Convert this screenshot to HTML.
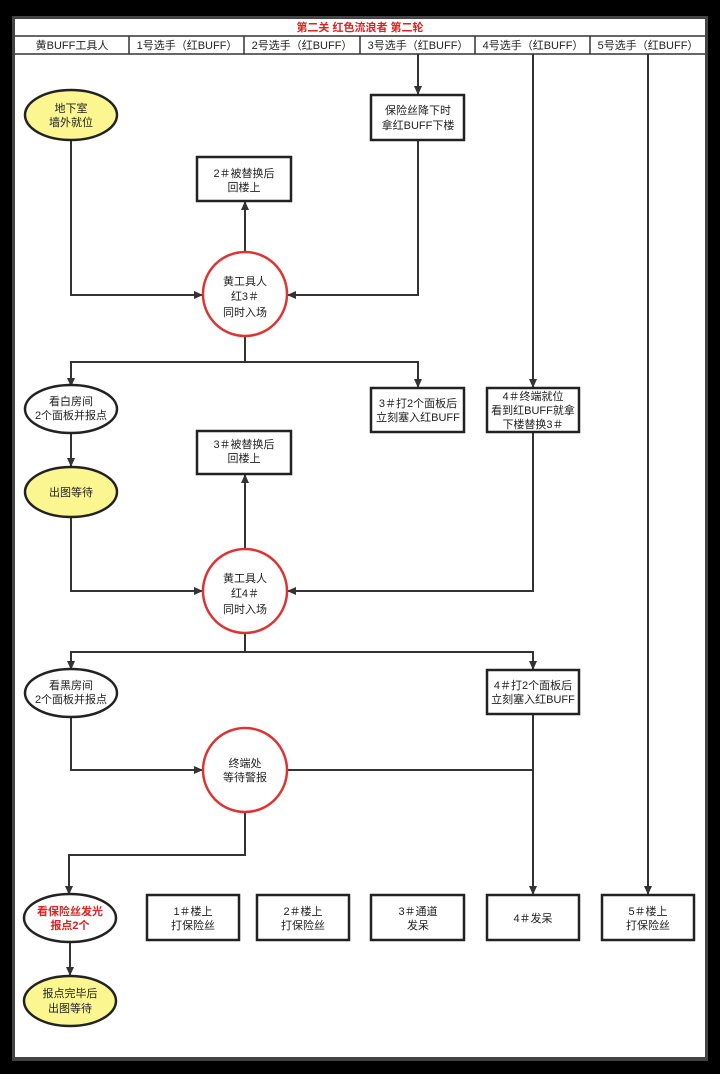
<!DOCTYPE html>
<html><head><meta charset="utf-8"><style>
body{margin:0;background:#000;width:720px;height:1074px;overflow:hidden}
svg{display:block}
text{font-family:"Liberation Sans","Noto Sans CJK SC",sans-serif;font-size:11px;fill:#222;text-anchor:middle}
</style></head><body>
<svg width="720" height="1074" viewBox="0 0 720 1074">
<defs><marker id="a" markerWidth="10" markerHeight="10" refX="8" refY="4" orient="auto" markerUnits="userSpaceOnUse"><path d="M0,0 L9,4 L0,8 z" fill="#333"/></marker></defs>
<rect x="0" y="0" width="720" height="1074" fill="#000"/>
<rect x="12" y="16" width="696" height="1045" fill="#444"/>
<rect x="15" y="19" width="690" height="1038" fill="#fff"/>
<g stroke="#333" stroke-width="1.5" fill="none">
<line x1="15" y1="36" x2="705" y2="36"/>
<line x1="15" y1="54" x2="705" y2="54"/>
<line x1="129" y1="36" x2="129" y2="54"/><line x1="244" y1="36" x2="244" y2="54"/>
<line x1="360" y1="36" x2="360" y2="54"/><line x1="475" y1="36" x2="475" y2="54"/>
<line x1="590" y1="36" x2="590" y2="54"/>
</g>
<text x="360" y="31" style="fill:#d22;font-weight:bold">第二关 红色流浪者 第二轮</text>
<text x="72" y="49">黄BUFF工具人</text><text x="187" y="49">1号选手（红BUFF）</text>
<text x="302" y="49">2号选手（红BUFF）</text><text x="418" y="49">3号选手（红BUFF）</text>
<text x="533" y="49">4号选手（红BUFF）</text><text x="648" y="49">5号选手（红BUFF）</text>
<g stroke="#333" stroke-width="2" fill="none" marker-end="url(#a)">
<path d="M418 54 V94"/>
<path d="M533 54 V387"/>
<path d="M648 54 V894"/>
<path d="M71 140 V295 H202"/>
<path d="M418 140 V295 H288"/>
<path d="M245 252 V202"/>
<path d="M245 335 V362 H71 V386"/>
<path d="M245 362 H418 V387"/>
<path d="M71 433 V466"/>
<path d="M71 517 V591 H202"/>
<path d="M533 432 V591 H288"/>
<path d="M245 549 V475"/>
<path d="M245 633 V652 H71 V669"/>
<path d="M245 652 H533 V669"/>
<path d="M71 717 V770 H202"/>
<path d="M533 714 V894"/>
<path d="M245 812 V855 H69 V894"/>
<path d="M70 942 V975"/>
</g>
<path d="M288 770 H533" stroke="#333" stroke-width="2"/>
<g stroke="#222" stroke-width="2.5">
<ellipse cx="71" cy="115" rx="46" ry="25" fill="#fbf68f"/>
<ellipse cx="71" cy="409" rx="46" ry="24" fill="#fff"/>
<ellipse cx="71" cy="492" rx="46" ry="25" fill="#fbf68f"/>
<ellipse cx="71" cy="693" rx="46" ry="24" fill="#fff"/>
<ellipse cx="70" cy="918" rx="46" ry="24" fill="#fff"/>
<ellipse cx="70" cy="1001" rx="46" ry="25" fill="#fbf68f"/>
<rect x="371" y="95" width="93" height="45" fill="#fff"/>
<rect x="197" y="157" width="94" height="44" fill="#fff"/>
<rect x="371" y="388" width="93" height="44" fill="#fff"/>
<rect x="487" y="388" width="92" height="44" fill="#fff"/>
<rect x="197" y="431" width="94" height="43" fill="#fff"/>
<rect x="487" y="670" width="92" height="44" fill="#fff"/>
<rect x="147" y="895" width="92" height="45" fill="#fff"/>
<rect x="257" y="895" width="92" height="45" fill="#fff"/>
<rect x="371" y="895" width="93" height="45" fill="#fff"/>
<rect x="487" y="895" width="92" height="45" fill="#fff"/>
<rect x="602" y="895" width="92" height="45" fill="#fff"/>
</g>
<g stroke="#d33" stroke-width="2.5" fill="#fff">
<ellipse cx="245" cy="294" rx="42" ry="42"/>
<ellipse cx="245" cy="591" rx="42" ry="42"/>
<ellipse cx="245" cy="770" rx="42" ry="42"/>
</g>
<text x="71" y="112">地下室</text><text x="71" y="126">墙外就位</text>
<text x="418" y="114">保险丝降下时</text><text x="418" y="129">拿红BUFF下楼</text>
<text x="244" y="177">2＃被替换后</text><text x="244" y="191">回楼上</text>
<text x="245" y="285">黄工具人</text><text x="245" y="300">红3＃</text><text x="245" y="316">同时入场</text>
<text x="71" y="405">看白房间</text><text x="71" y="419">2个面板并报点</text>
<text x="418" y="407">3＃打2个面板后</text><text x="418" y="421">立刻塞入红BUFF</text>
<text x="533" y="400">4＃终端就位</text><text x="533" y="414">看到红BUFF就拿</text><text x="533" y="428">下楼替换3＃</text>
<text x="244" y="448">3＃被替换后</text><text x="244" y="462">回楼上</text>
<text x="71" y="496">出图等待</text>
<text x="245" y="582">黄工具人</text><text x="245" y="597">红4＃</text><text x="245" y="613">同时入场</text>
<text x="71" y="689">看黑房间</text><text x="71" y="703">2个面板并报点</text>
<text x="533" y="689">4＃打2个面板后</text><text x="533" y="703">立刻塞入红BUFF</text>
<text x="245" y="767">终端处</text><text x="245" y="781">等待警报</text>
<text x="70" y="915" style="fill:#d22;font-weight:bold">看保险丝发光</text><text x="70" y="929" style="fill:#d22;font-weight:bold">报点2个</text>
<text x="193" y="915">1＃楼上</text><text x="193" y="929">打保险丝</text>
<text x="303" y="915">2＃楼上</text><text x="303" y="929">打保险丝</text>
<text x="418" y="915">3＃通道</text><text x="418" y="929">发呆</text>
<text x="533" y="922">4＃发呆</text>
<text x="648" y="915">5＃楼上</text><text x="648" y="929">打保险丝</text>
<text x="70" y="997">报点完毕后</text><text x="70" y="1012">出图等待</text>
</svg>
</body></html>
